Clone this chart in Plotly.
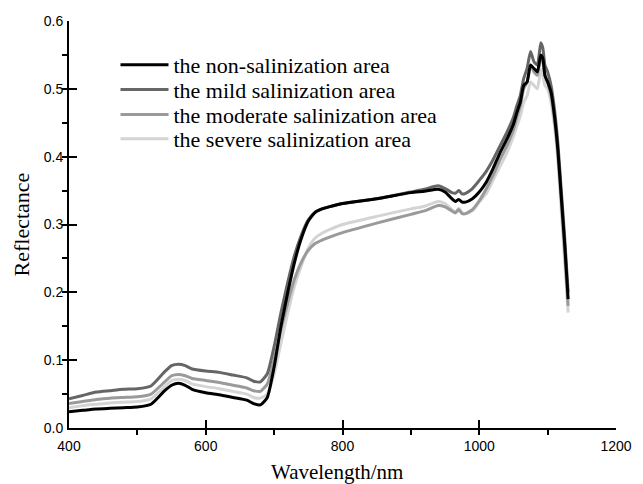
import plotly.graph_objects as go

wavelength = [400, 420, 440, 460, 480, 500, 520, 540, 550, 560, 570, 580, 600, 620, 640, 660, 670, 680,
              690, 700, 710, 720, 730, 740, 750, 760, 770, 780, 800, 850, 900, 920, 940, 950, 960, 965,
              970, 975, 980, 990, 1000, 1010, 1020, 1030, 1040, 1050, 1055, 1060, 1065, 1070, 1075, 1080,
              1085, 1090, 1093, 1096, 1100, 1105, 1110, 1115, 1120, 1125, 1130]

non_salinization = [0.024, 0.026, 0.028, 0.029, 0.030, 0.031, 0.035, 0.055, 0.063, 0.066, 0.063, 0.057, 0.052,
                    0.049, 0.045, 0.041, 0.036, 0.034, 0.045, 0.090, 0.150, 0.200, 0.245, 0.280, 0.305, 0.318,
                    0.323, 0.326, 0.331, 0.338, 0.347, 0.349, 0.352, 0.348, 0.338, 0.334, 0.337, 0.333, 0.333,
                    0.338, 0.348, 0.362, 0.382, 0.405, 0.425, 0.448, 0.465, 0.480, 0.505, 0.510, 0.535, 0.530,
                    0.525, 0.550, 0.545, 0.520, 0.510, 0.495, 0.460, 0.410, 0.340, 0.270, 0.190]

mild = [0.043, 0.048, 0.053, 0.055, 0.057, 0.058, 0.062, 0.083, 0.092, 0.094, 0.092, 0.087, 0.084,
        0.082, 0.078, 0.074, 0.069, 0.068, 0.080, 0.120, 0.170, 0.215, 0.255, 0.285, 0.307, 0.318,
        0.323, 0.326, 0.331, 0.338, 0.348, 0.352, 0.357, 0.353, 0.347, 0.346, 0.350, 0.345, 0.346,
        0.353, 0.365, 0.378, 0.395, 0.415, 0.435, 0.458, 0.475, 0.490, 0.515, 0.530, 0.555, 0.540,
        0.535, 0.568, 0.560, 0.535, 0.525, 0.505, 0.470, 0.420, 0.350, 0.280, 0.200]

moderate = [0.036, 0.039, 0.042, 0.044, 0.045, 0.046, 0.050, 0.068, 0.077, 0.079, 0.077, 0.073, 0.070,
            0.067, 0.063, 0.059, 0.055, 0.054, 0.065, 0.100, 0.145, 0.185, 0.220, 0.245, 0.262, 0.272,
            0.277, 0.281, 0.288, 0.302, 0.315, 0.320, 0.328, 0.326, 0.320, 0.317, 0.322, 0.316, 0.316,
            0.322, 0.335, 0.352, 0.372, 0.395, 0.415, 0.440, 0.458, 0.475, 0.500, 0.510, 0.535, 0.525,
            0.520, 0.548, 0.540, 0.520, 0.510, 0.490, 0.455, 0.405, 0.335, 0.260, 0.180]

severe = [0.030, 0.033, 0.035, 0.037, 0.038, 0.039, 0.043, 0.061, 0.070, 0.072, 0.070, 0.065, 0.061,
          0.058, 0.054, 0.050, 0.045, 0.044, 0.050, 0.080, 0.125, 0.170, 0.210, 0.240, 0.265, 0.280,
          0.287, 0.292, 0.300, 0.312, 0.323, 0.327, 0.334, 0.331, 0.322, 0.318, 0.324, 0.317, 0.316,
          0.320, 0.333, 0.345, 0.365, 0.385, 0.405, 0.430, 0.445, 0.460, 0.480, 0.490, 0.510, 0.505,
          0.500, 0.528, 0.520, 0.505, 0.500, 0.480, 0.445, 0.395, 0.320, 0.245, 0.170]

series_names = ["the non-salinization area", "the mild salinization area",
                "the moderate salinization area", "the severe salinization area"]
series_values = [non_salinization, mild, moderate, severe]
series_colors = ["#000000", "#666666", "#9a9a9a", "#d4d4d4"]
legend_ids = ["legend", "legend2", "legend3", "legend4"]
legend_y = [0.892, 0.831, 0.770, 0.710]

x_ticks = [400, 600, 800, 1000, 1200]
y_ticks = [0.0, 0.1, 0.2, 0.3, 0.4, 0.5, 0.6]

SERIF = "Liberation Serif, Times New Roman, serif"
SANS = "Liberation Sans, Arial, sans-serif"

fig = go.Figure()
order = list(range(len(series_names)))[::-1]
for i in order:
    fig.add_trace(go.Scatter(x=wavelength, y=series_values[i], mode="lines", name=series_names[i],
                             legend=legend_ids[i],
                             line=dict(color=series_colors[i], width=3, shape="spline", smoothing=0.5)))

legend_layout = {}
for lid, ly in zip(legend_ids, legend_y):
    legend_layout[lid] = dict(x=0.085, y=ly, xanchor="left", yanchor="middle",
                              font=dict(family=SERIF, size=22, color="#000"),
                              bgcolor="rgba(0,0,0,0)", itemwidth=48, borderwidth=0)

axis_common = dict(ticks="inside", ticklen=8, tickwidth=2, tickcolor="#000",
                   showline=True, linecolor="#000", linewidth=2, showgrid=False, zeroline=False,
                   tickfont=dict(family=SANS, size=14, color="#000"))

fig.update_layout(
    width=643, height=484,
    margin=dict(l=69, r=27, t=21, b=56),
    paper_bgcolor="white", plot_bgcolor="white",
    showlegend=True,
    xaxis=dict(range=[400, 1200], tickvals=x_ticks, ticklabelstandoff=4,
               minor=dict(dtick=100, ticks="outside", ticklen=5, tickwidth=2, tickcolor="#000"),
               **axis_common),
    yaxis=dict(range=[0, 0.6], tickvals=y_ticks, tickformat=".1f", ticklabelstandoff=1,
               minor=dict(dtick=0.05, ticks="outside", ticklen=5, tickwidth=2, tickcolor="#000"),
               **axis_common),
    annotations=[
        dict(text="Wavelength/nm", xref="paper", yref="paper", x=0.49, y=-0.108, xanchor="center",
             yanchor="middle", showarrow=False,
             font=dict(family=SERIF, size=21, color="#000")),
        dict(text="Reflectance", xref="paper", yref="paper", x=-0.086, y=0.5, xanchor="center",
             yanchor="middle", textangle=-90, showarrow=False,
             font=dict(family=SERIF, size=22, color="#000")),
    ],
    **legend_layout,
)

fig.write_html("out.html")
